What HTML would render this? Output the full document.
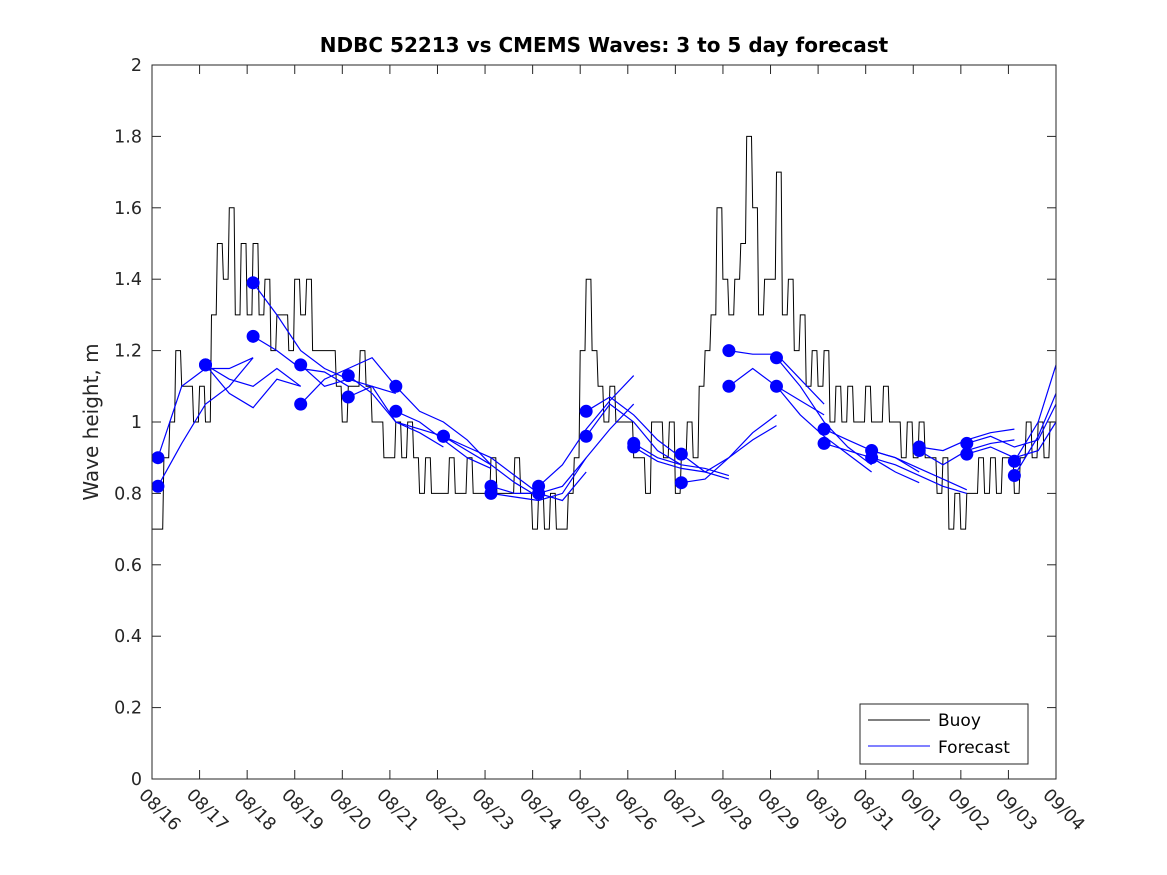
<!DOCTYPE html>
<html><head><meta charset="utf-8"><style>
body{margin:0;background:#fff}
svg{display:block;font-family:"DejaVu Sans","Liberation Sans",sans-serif}
</style></head><body>
<svg id="chart" width="1167" height="875" viewBox="0 0 1167 875">
<rect width="1167" height="875" fill="#fff"/>
<text x="604" y="52" text-anchor="middle" font-size="20" font-weight="bold" fill="#000">NDBC 52213 vs CMEMS Waves: 3 to 5 day forecast</text>
<text transform="translate(98,422) rotate(-90)" text-anchor="middle" font-size="20" fill="#262626">Wave height, m</text>
<g id="axes"></g>
<g id="buoy"></g>
<g id="fc"></g>
<g id="dots"></g>
<rect x="152" y="65" width="904" height="714" fill="none" stroke="#262626" stroke-width="1"/>
<g>
<rect x="860" y="704" width="168" height="60" fill="#fff" stroke="#262626"/>
<line x1="868" y1="720" x2="930" y2="720" stroke="#000"/>
<text x="938" y="726" font-size="17" fill="#000">Buoy</text>
<line x1="868" y1="746" x2="930" y2="746" stroke="#00f"/>
<text x="938" y="753" font-size="17" fill="#000">Forecast</text>
</g>
</svg>
<script>
const xTickLabels=["08/16","08/17","08/18","08/19","08/20","08/21","08/22","08/23","08/24","08/25","08/26","08/27","08/28","08/29","08/30","08/31","09/01","09/02","09/03","09/04"];
const yTickValues=[0,0.2,0.4,0.6,0.8,1,1.2,1.4,1.6,1.8,2];
const yTickLabels=["0","0.2","0.4","0.6","0.8","1","1.2","1.4","1.6","1.8","2"];
// buoy, every 3 hours from 08/16 00:00
const buoyValues=[
0.7,0.7,0.9,1.0,1.2,1.1,1.1,1.0,
1.1,1.0,1.3,1.5,1.4,1.6,1.3,1.5,
1.3,1.5,1.3,1.4,1.2,1.3,1.3,1.2,
1.4,1.3,1.4,1.2,1.2,1.2,1.2,1.1,
1.0,1.1,1.1,1.2,1.1,1.0,1.0,0.9,
0.9,1.0,0.9,1.0,0.9,0.8,0.9,0.8,
0.8,0.8,0.9,0.8,0.8,0.9,0.8,0.8,
0.8,0.9,0.8,0.8,0.8,0.9,0.8,0.8,
0.7,0.8,0.7,0.8,0.7,0.7,0.8,0.9,
1.2,1.4,1.2,1.1,1.0,1.1,1.0,1.0,
1.0,0.9,0.9,0.8,1.0,1.0,0.9,1.0,
0.8,0.9,1.0,0.9,1.1,1.2,1.3,1.6,
1.4,1.3,1.4,1.5,1.8,1.6,1.3,1.4,
1.4,1.7,1.3,1.4,1.2,1.3,1.1,1.2,
1.1,1.2,1.0,1.1,1.0,1.1,1.0,1.0,
1.1,1.0,1.0,1.1,1.0,1.0,0.9,1.0,
0.9,1.0,0.9,0.9,0.8,0.9,0.7,0.8,
0.7,0.8,0.8,0.9,0.8,0.9,0.8,0.9,
0.9,0.8,0.9,1.0,0.9,1.0,0.9,1.0,1.0];
// forecast runs: start day offset and values every 0.5 day
const runStarts=[0.125,0.125,1.125,1.125,2.125,2.125,3.125,3.125,4.125,4.125,5.125,5.125,6.125,6.125,7.125,7.125,8.125,8.125,9.125,9.125,10.125,10.125,11.125,11.125,12.125,12.125,13.125,13.125,14.125,14.125,15.125,15.125,16.125,16.125,17.125,17.125,18.125,18.125];
const runValues=[
[0.90,1.10,1.15,1.15,1.18],[0.82,0.94,1.05,1.10,1.18],
[1.16,1.12,1.10,1.15,1.10],[1.16,1.08,1.04,1.12,1.10],
[1.39,1.30,1.20,1.15,1.12],[1.24,1.20,1.15,1.14,1.10],
[1.16,1.10,1.12,1.10,1.08],[1.05,1.12,1.15,1.18,1.10],
[1.13,1.08,1.00,0.98,0.96],[1.07,1.10,1.00,0.97,0.93],
[1.10,1.03,1.00,0.95,0.88],[1.03,1.00,0.95,0.90,0.87],
[0.96,0.93,0.90,0.85,0.80],[0.96,0.92,0.88,0.83,0.79],
[0.82,0.80,0.80,0.78,0.86],[0.80,0.79,0.78,0.80,0.90],
[0.82,0.88,0.98,1.06,1.13],[0.80,0.82,0.90,0.98,1.05],
[1.03,1.07,1.02,0.95,0.90],[0.96,1.05,1.00,0.92,0.88],
[0.94,0.90,0.88,0.87,0.85],[0.93,0.89,0.87,0.86,0.84],
[0.91,0.86,0.90,0.97,1.02],[0.83,0.84,0.90,0.95,0.99],
[1.20,1.19,1.19,1.12,1.05],[1.10,1.15,1.10,1.06,1.02],
[1.18,1.10,1.00,0.93,0.88],[1.10,1.02,0.96,0.91,0.86],
[0.98,0.95,0.92,0.90,0.86],[0.94,0.92,0.90,0.86,0.83],
[0.92,0.90,0.87,0.84,0.81],[0.90,0.88,0.85,0.82,0.80],
[0.93,0.92,0.95,0.97,0.98],[0.92,0.88,0.92,0.94,0.95],
[0.94,0.96,0.93,0.95,1.05],[0.91,0.93,0.90,0.92,1.00],
[0.89,1.00,1.16],[0.85,0.96,1.08]];
const NS="http://www.w3.org/2000/svg";
const X0=152,X1=1056,Y0=779,Y1=65,DAYS=19,YMAX=2;
function xs(d){return X0+(X1-X0)*d/DAYS;}
function ys(v){return Y0-(Y0-Y1)*v/YMAX;}
function mk(tag,attrs,parent){const e=document.createElementNS(NS,tag);for(const k in attrs)e.setAttribute(k,attrs[k]);parent.appendChild(e);return e;}
const axes=document.getElementById('axes');
xTickLabels.forEach((lab,i)=>{
  const x=xs(i);
  const t=mk('line',{x1:x,y1:Y0,x2:x,y2:Y0-9,stroke:'#262626'},axes);
  
  
  mk('line',{x1:x,y1:Y1,x2:x,y2:Y1+9,stroke:'#262626'},axes);
  const tx=mk('text',{transform:`translate(${x-14},${796}) rotate(45)`,'font-size':17.5,fill:'#262626'},axes);
  tx.textContent=lab;
  
  
});
yTickValues.forEach((v,i)=>{
  const y=ys(v);
  const t=mk('line',{x1:X0,y1:y,x2:X0+9,y2:y,stroke:'#262626'},axes);
  
  
  mk('line',{x1:X1,y1:y,x2:X1-9,y2:y,stroke:'#262626'},axes);
  const tx=mk('text',{x:X0-10,y:y+6,'text-anchor':'end','font-size':17.5,fill:'#262626'},axes);
  tx.textContent=yTickLabels[i];
  
  
});
// step-like rendering: hold value, then steep transition
let bpts=[];
buoyValues.forEach((v,i)=>{
  const xa=xs(i/8), xb=xs(Math.min((i+0.8)/8,DAYS));
  bpts.push(xa.toFixed(1)+','+ys(v).toFixed(1));
  if(i<buoyValues.length-1) bpts.push(xb.toFixed(1)+','+ys(v).toFixed(1));
});
const bl=mk('polyline',{points:bpts.join(' '),fill:'none',stroke:'#000','stroke-width':1},document.getElementById('buoy'));


const fc=document.getElementById('fc'),dots=document.getElementById('dots');
runValues.forEach((vals,r)=>{
  const s=runStarts[r];
  const pts=vals.map((v,i)=>xs(Math.min(s+i*0.5,DAYS)).toFixed(1)+','+ys(v).toFixed(1)).join(' ');
  const pl=mk('polyline',{points:pts,fill:'none',stroke:'#00f','stroke-width':1.2},fc);
  
  
  const c=mk('circle',{cx:xs(s),cy:ys(vals[0]),r:6.5,fill:'#00f'},dots);
  
  
});
</script>
</body></html>
